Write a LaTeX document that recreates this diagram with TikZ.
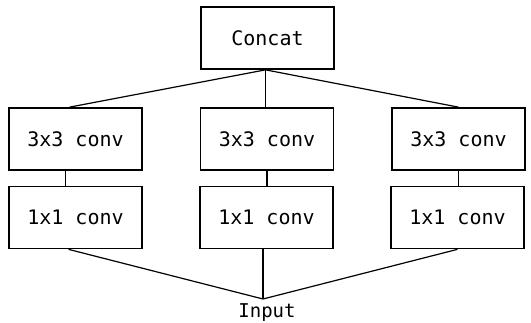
\documentclass[tikz,border=0pt]{standalone}
\usepackage{fontspec}
\setmonofont{DejaVu Sans Mono}
\begin{document}
\begin{tikzpicture}[x=1pt,y=1pt,
  box/.style={draw,line width=1.7pt,minimum width=133pt,minimum height=62pt,inner sep=0pt,font=\ttfamily\fontsize{20}{22}\selectfont},
  conn/.style={line width=1.2pt},
  lbl/.style={inner sep=0pt,font=\ttfamily\fontsize{19}{21}\selectfont}]
\useasboundingbox[fill=white] (0,0) rectangle (531,-323);
\node[box] (concat) at (267.5,-38) {Concat};
\node[box] (c3a) at (75.5,-139) {3x3 conv};
\node[box] (c3b) at (267,-139) {3x3 conv};
\node[box] (c3c) at (458.5,-139) {3x3 conv};
\node[box] (c1a) at (75.5,-217.5) {1x1 conv};
\node[box] (c1b) at (266.5,-217.5) {1x1 conv};
\node[box] (c1c) at (457.5,-217.5) {1x1 conv};
\coordinate (join) at (263,-299);
\node[lbl,anchor=base] (input) at (267,-318) {Input};
\coordinate (top) at ([xshift=-2pt]concat.south);
\draw[conn] (top) -- ([xshift=-6pt]c3a.north);
\draw[conn] (top) -- (top |- c3b.north);
\draw[conn] (top) -- (c3c.north);
\draw[conn] ([xshift=-10pt]c3a.south) -- ([xshift=-10pt]c1a.north);
\draw[conn] (c3b.south) -- (c3b.south |- c1b.north);
\draw[conn] (c3c.south) -- (c3c.south |- c1c.north);
\draw[conn] ([xshift=-7pt]c1a.south) -- (join);
\draw[conn] (c1b.south -| join) -- (join);
\draw[conn] (c1c.south) -- (join);
\end{tikzpicture}
\end{document}
